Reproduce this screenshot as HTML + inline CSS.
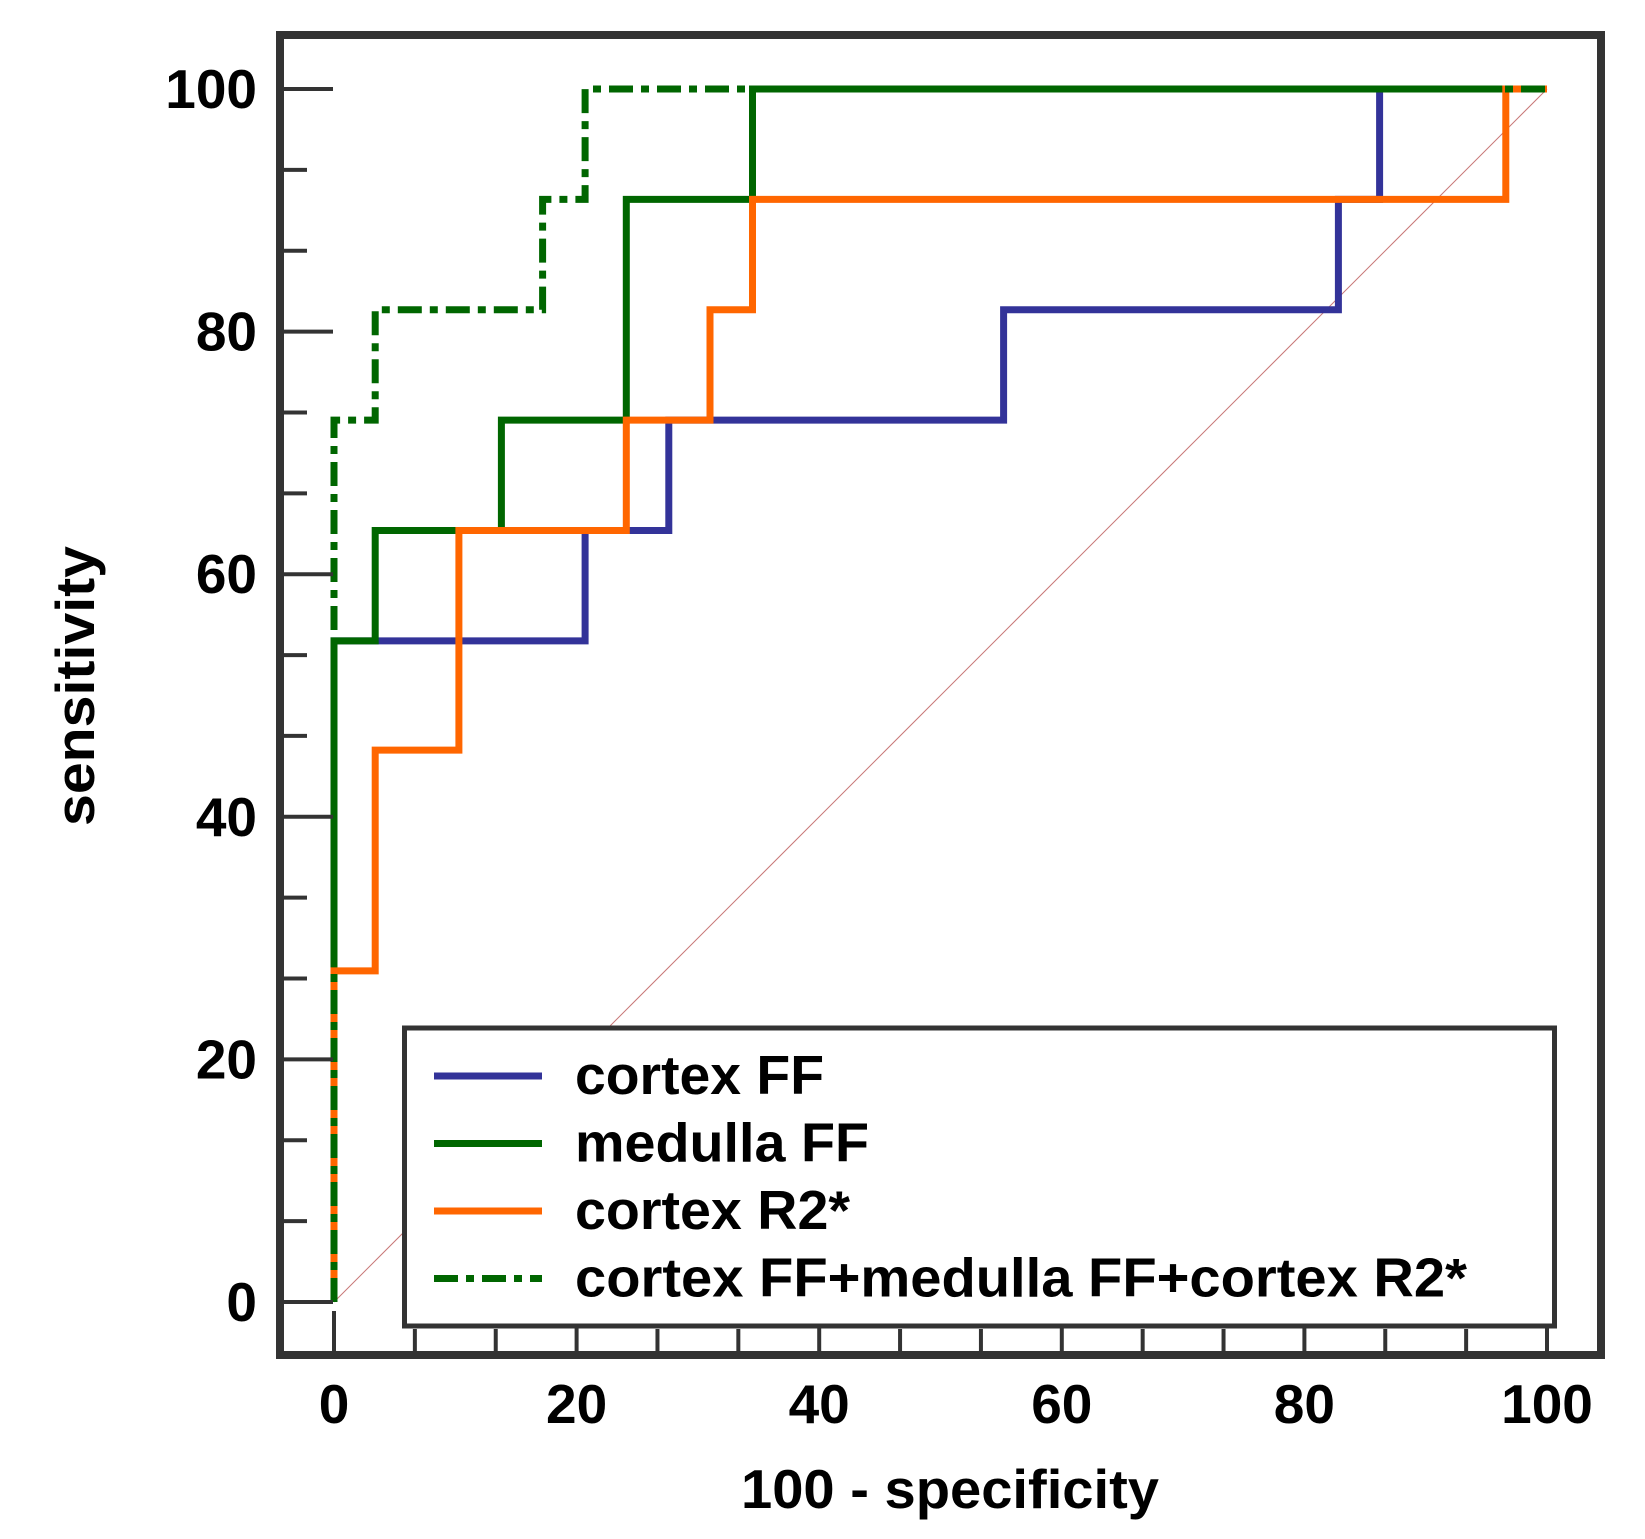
<!DOCTYPE html>
<html><head><meta charset="utf-8"><style>
html,body{margin:0;padding:0;background:#fff;}
svg{display:block;font-family:"Liberation Sans",Arial,sans-serif;font-weight:bold;}
</style></head><body>
<svg id="chart" width="1645" height="1539" viewBox="0 0 1645 1539" xmlns="http://www.w3.org/2000/svg">
<rect x="0" y="0" width="1645" height="1539" fill="#fff"/>
<g id="marks"></g>
<rect x="280" y="35" width="1321" height="1320" fill="none" stroke="#333" stroke-width="8"/>
<g id="axes"></g>
<g>
<rect x="404.5" y="1028" width="1150" height="298" fill="#fff" stroke="#333" stroke-width="5"/>
<g id="legend-items"></g>
</g>
<text x="950" y="1508" font-size="55" text-anchor="middle" textLength="418" lengthAdjust="spacingAndGlyphs">100 - specificity</text>
<text transform="translate(94,686) rotate(-90)" x="0" y="0" font-size="55" text-anchor="middle" textLength="280" lengthAdjust="spacingAndGlyphs">sensitivity</text>
</svg>
<script>
const xTicks = [0, 20, 40, 60, 80, 100];
const yTicks = [0, 20, 40, 60, 80, 100];
const seriesNames = ["cortex FF", "medulla FF", "cortex R2*", "cortex FF+medulla FF+cortex R2*"];
const cortexFFx = [0, 0, 20.7, 20.7, 27.6, 27.6, 55.2, 55.2, 82.8, 82.8, 86.2, 86.2, 100];
const cortexFFy = [0, 54.5, 54.5, 63.6, 63.6, 72.7, 72.7, 81.8, 81.8, 90.9, 90.9, 100, 100];
const medullaFFx = [0, 0, 3.4, 3.4, 13.8, 13.8, 24.1, 24.1, 34.5, 34.5, 100];
const medullaFFy = [0, 54.5, 54.5, 63.6, 63.6, 72.7, 72.7, 90.9, 90.9, 100, 100];
const cortexR2x = [0, 0, 3.4, 3.4, 10.3, 10.3, 24.1, 24.1, 31, 31, 34.5, 34.5, 96.6, 96.6, 100];
const cortexR2y = [0, 27.3, 27.3, 45.5, 45.5, 63.6, 63.6, 72.7, 72.7, 81.8, 81.8, 90.9, 90.9, 100, 100];
const combinedX = [0, 0, 3.4, 3.4, 17.2, 17.2, 20.7, 20.7, 100];
const combinedY = [0, 72.7, 72.7, 81.8, 81.8, 90.9, 90.9, 100, 100];

const NS = "http://www.w3.org/2000/svg";
const sx = v => 334 + v * 12.13;
const sy = v => 1302 - v * 12.13;
function mk(tag, attrs, parent) {
  const e = document.createElementNS(NS, tag);
  for (const k in attrs) e.setAttribute(k, attrs[k]);
  parent.appendChild(e);
  return e;
}
const marks = document.getElementById("marks");
const axes = document.getElementById("axes");

const diag = mk("line", {x1: sx(0), y1: sy(0), x2: sx(100), y2: sy(100), stroke: "#c87878", "stroke-width": 1}, marks);



const series = [
  {xs: cortexFFx, ys: cortexFFy, color: "#333399", dash: null},
  {xs: medullaFFx, ys: medullaFFy, color: "#006600", dash: null},
  {xs: cortexR2x, ys: cortexR2y, color: "#ff6600", dash: null},
  {xs: combinedX, ys: combinedY, color: "#006600", dash: "24 8 8 8"}
];
const seriesSlugs = ["cortex-ff", "medulla-ff", "cortex-r2", "combined"];
series.forEach((s, i) => {
  const d = s.xs.map((x, j) => (j ? "L" : "M") + sx(x).toFixed(1) + " " + sy(s.ys[j]).toFixed(1)).join(" ");
  const attrs = {d: d, fill: "none", stroke: s.color, "stroke-width": 7, "stroke-linejoin": "miter"};
  if (s.dash) attrs["stroke-dasharray"] = s.dash;
  const p = mk("path", attrs, marks);
  
  
});

for (let k = 0; k <= 15; k++) {
  const v = k * 20 / 3;
  const major = k % 3 === 0;
  const t = mk("line", {x1: 284, x2: major ? 333 : 307, y1: sy(v), y2: sy(v), stroke: "#333", "stroke-width": 4}, axes);
  
  
}
for (let k = 0; k <= 15; k++) {
  const v = k * 20 / 3;
  const major = k % 3 === 0;
  const t = mk("line", {x1: sx(v), x2: sx(v), y1: major ? 1311 : 1329, y2: 1351, stroke: "#333", "stroke-width": 4}, axes);
  
  
}
yTicks.forEach(v => {
  const t = mk("text", {x: 257, y: sy(v) + 19, "font-size": 55, "text-anchor": "end"}, axes);
  t.textContent = v;
  
  
});
xTicks.forEach(v => {
  const t = mk("text", {x: sx(v), y: 1423, "font-size": 55, "text-anchor": "middle"}, axes);
  t.textContent = v;
  
  
});

const leg = document.getElementById("legend-items");
const legColors = ["#333399", "#006600", "#ff6600", "#006600"];
const legWidths = [249, 294, 275, 892];
seriesNames.forEach((n, i) => {
  const y = 1076 + i * 67.5;
  const l = mk("line", {x1: 434, x2: 542, y1: y, y2: y, stroke: legColors[i], "stroke-width": 7}, leg);
  if (i === 3) l.setAttribute("stroke-dasharray", "24 8 8 8");
  
  
  const t = mk("text", {x: 575, y: y + 18, "font-size": 55, textLength: legWidths[i], lengthAdjust: "spacingAndGlyphs"}, leg);
  t.textContent = n;
  
  
});
</script>
</body></html>
